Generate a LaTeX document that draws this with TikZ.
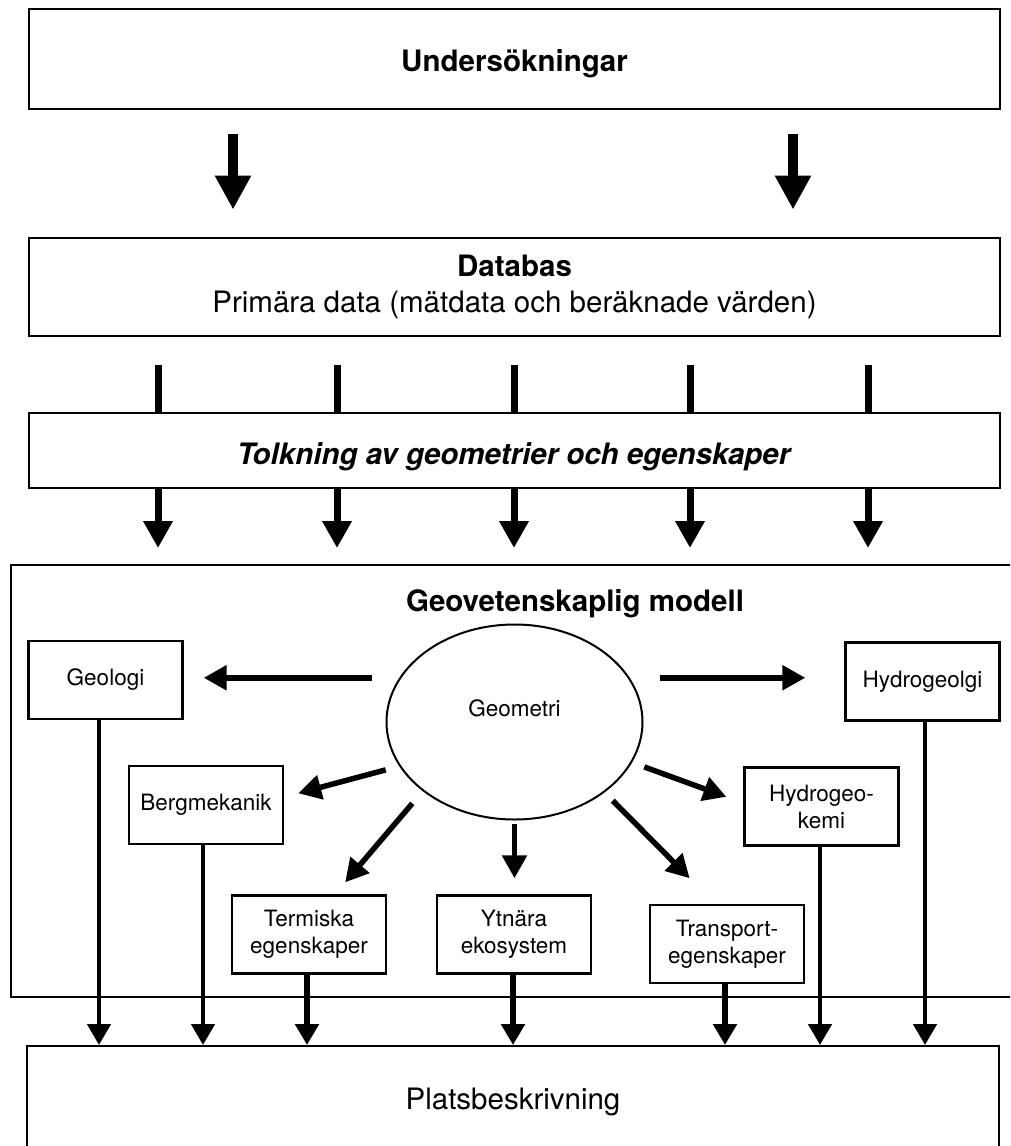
\documentclass[tikz,border=0pt]{standalone}
\usepackage{fontspec}
\setmainfont{TeX Gyre Heros}
\usetikzlibrary{arrows.meta,shapes.geometric}
\begin{document}
\begin{tikzpicture}[x=1pt,y=-1pt,
  bigfont/.style={font=\fontsize{29.5}{36}\selectfont},
  smallfont/.style={font=\fontsize{22.5}{27}\selectfont},
  wide/.style={draw, line width=2.8pt, inner sep=0pt, align=center, bigfont},
  box/.style={draw, line width=2.4pt, minimum width=154pt, minimum height=78pt,
    inner sep=0pt, align=center, smallfont},
  toparr/.style={line width=10pt, -{Triangle[width=34pt,length=34pt]}},
  midarr/.style={line width=7pt, -{Triangle[width=28pt,length=27pt]}},
  bar/.style={line width=7pt},
  inarr/.style={line width=5.5pt, -{Triangle[width=24pt,length=23pt]}},
  outarr/.style={line width=4.6pt, -{Triangle[width=23pt,length=21pt]}},
  outarrthick/.style={outarr, line width=6pt},
]
\useasboundingbox (0,0) rectangle (1010,1146);
\clip (0,0) rectangle (1010,1146);

% upper chain
\node[wide, minimum width=971pt, minimum height=100pt, text height=31pt, text depth=6pt]
  (und) at (514.5,59) {\textbf{Undersökningar}};
\node[wide, minimum width=971pt, minimum height=98pt] (db) at (514.5,287)
  {\textbf{Databas}\\Primära data (mätdata och beräknade värden)};
\node[wide, minimum width=971pt, minimum height=75pt, text height=33pt, text depth=6pt]
  (tolk) at (514.5,450.5) {\textbf{\textit{Tolkning av geometrier och egenskaper}}};

% model frame and its parts
\node[draw, line width=2pt, minimum width=1128pt, minimum height=432pt, inner sep=0pt]
  (gm) at (575,781) {};
\node[bigfont] (gmtitle) at (575,604) {\textbf{Geovetenskaplig modell}};

\node[ellipse, draw, line width=2pt, minimum width=256pt, minimum height=195pt,
  inner sep=0pt] (geo) at (514.5,722) {};
\node[smallfont] (geotext) at (514.5,708) {Geometri};

\node[box] (geologi) at (105.5,680) {Geologi};
\node[box] (hydgeo) at (922.5,681.5) {Hydrogeolgi};
\node[box] (berg) at (206,805) {Bergmekanik};
\node[box] (hkemi) at (821.5,806.5) {Hydrogeo-\\kemi};
\node[box] (term) at (309,934.5) {Termiska\\egenskaper};
\node[box] (ytn) at (514,934.5) {Ytnära\\ekosystem};
\node[box] (trans) at (727,944) {Transport-\\egenskaper};

% site description
\node[draw, line width=2pt, minimum width=972pt, minimum height=106pt, inner sep=0pt,
  text height=27pt, text depth=6pt, bigfont] (plats) at (513,1099) {Platsbeskrivning};

% arrows between the upper boxes
\foreach \dx in {-281.5,278.5}
  \draw[toparr, shorten <=24pt, shorten >=27pt]
    ([xshift=\dx pt]und.south) -- ([xshift=\dx pt]db.north);
\foreach \dx in {-356.5,-177.5,-0.5,175.5,353.5} {
  \draw[bar, shorten <=28pt] ([xshift=\dx pt]db.south) -- ([xshift=\dx pt]tolk.north);
  \draw[midarr, shorten >=16pt]
    ([xshift=\dx pt]tolk.south) -- ([xshift=\dx pt]tolk.south |- gm.north);
}

% arrows out of the geometry
\draw[inarr, shorten <=27.5pt, shorten >=20pt] (geo.159) -- (geo.159 -| geologi.east);
\draw[inarr, shorten <=30pt, shorten >=39pt] (geo.21) -- (geo.21 -| hydgeo.west);
\draw[inarr, shorten <=14pt, shorten >=14.5pt] (geo.201) -- ([yshift=8pt]berg.east);
\draw[inarr, shorten <=16pt, shorten >=15.7pt] (geo.217) -- ([xshift=26pt]term.north);
\draw[inarr, shorten <=3.5pt, shorten >=16pt] (geo.south) -- (geo.south |- ytn.north);
\draw[inarr, shorten <=11.5pt, shorten >=36pt] (geo.322) -- ([xshift=-12pt]trans.north);
\draw[inarr, shorten <=13pt, shorten >=18pt] (geo.341) -- ([yshift=3.5pt]hkemi.west);

% arrows into the site description
\draw[outarr] ([xshift=-6.5pt]geologi.south) -- ([xshift=-6.5pt]geologi.south |- plats.north);
\draw[outarr] ([xshift=-3pt]berg.south) -- ([xshift=-3pt]berg.south |- plats.north);
\draw[outarrthick] ([xshift=-2pt]term.south) -- ([xshift=-2pt]term.south |- plats.north);
\draw[outarrthick] ([xshift=-1pt]ytn.south) -- ([xshift=-1pt]ytn.south |- plats.north);
\draw[outarrthick] ([xshift=-2pt]trans.south) -- ([xshift=-2pt]trans.south |- plats.north);
\draw[outarr] ([xshift=-1.5pt]hkemi.south) -- ([xshift=-1.5pt]hkemi.south |- plats.north);
\draw[outarr] ([xshift=2.5pt]hydgeo.south) -- ([xshift=2.5pt]hydgeo.south |- plats.north);
\end{tikzpicture}
\end{document}
